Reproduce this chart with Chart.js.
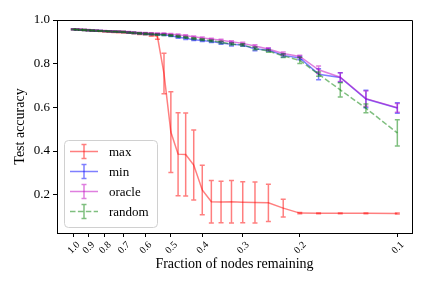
<!DOCTYPE html>
<html>
<head>
<meta charset="utf-8">
<script src="https://cdn.jsdelivr.net/npm/chart.js@4.4.0/dist/chart.umd.min.js"></script>
<style>
    html, body { margin: 0; padding: 0; background: #fff; }
</style>
</head>
<body>
<canvas id="chart" width="432" height="288"></canvas>
<script>
// Fraction of nodes remaining (x) and test accuracy per removal strategy.
const fractions = [1.0, 0.975, 0.95, 0.925, 0.9, 0.875, 0.85, 0.825, 0.8, 0.775, 0.75, 0.725, 0.7, 0.675, 0.65, 0.625, 0.6, 0.575, 0.55,
    0.525, 0.5, 0.475, 0.45, 0.425, 0.4, 0.375, 0.35, 0.325, 0.3, 0.275, 0.25, 0.225, 0.2, 0.175, 0.15, 0.125, 0.1];

const maxAcc = [0.957, 0.956, 0.955, 0.954, 0.953, 0.951, 0.950, 0.949, 0.948, 0.947, 0.946, 0.945, 0.944, 0.942, 0.940, 0.938, 0.936, 0.932, 0.924,
    0.755, 0.487, 0.386, 0.384, 0.336, 0.222, 0.168, 0.167, 0.168, 0.166, 0.165, 0.163, 0.139, 0.116, 0.115, 0.115, 0.115, 0.114];
const maxErr = [0.002, 0.002, 0.002, 0.002, 0.002, 0.002, 0.002, 0.002, 0.003, 0.003, 0.003, 0.003, 0.003, 0.003, 0.003, 0.004, 0.004, 0.006, 0.012,
    0.093, 0.185, 0.190, 0.190, 0.160, 0.113, 0.097, 0.095, 0.097, 0.094, 0.094, 0.085, 0.041, 0.003, 0.002, 0.002, 0.002, 0.002];

const minAcc = [0.957, 0.956, 0.955, 0.954, 0.953, 0.952, 0.951, 0.950, 0.949, 0.948, 0.947, 0.946, 0.945, 0.943, 0.941, 0.939, 0.937, 0.935, 0.934,
    0.933, 0.928, 0.921, 0.916, 0.910, 0.906, 0.902, 0.895, 0.889, 0.885, 0.867, 0.863, 0.838, 0.826, 0.752, 0.737, 0.638, 0.597];
const minErr = [0.002, 0.002, 0.002, 0.002, 0.002, 0.002, 0.002, 0.002, 0.002, 0.002, 0.002, 0.002, 0.002, 0.003, 0.003, 0.003, 0.003, 0.003, 0.003,
    0.004, 0.004, 0.005, 0.005, 0.004, 0.004, 0.005, 0.006, 0.008, 0.005, 0.008, 0.006, 0.007, 0.008, 0.025, 0.021, 0.040, 0.024];

const oracleAcc = [0.958, 0.957, 0.956, 0.955, 0.954, 0.953, 0.952, 0.951, 0.950, 0.949, 0.948, 0.947, 0.946, 0.945, 0.943, 0.941, 0.940, 0.939, 0.938,
    0.938, 0.935, 0.932, 0.928, 0.923, 0.918, 0.913, 0.907, 0.900, 0.893, 0.881, 0.867, 0.847, 0.833, 0.772, 0.738, 0.640, 0.598];
const oracleErr = [0.002, 0.002, 0.002, 0.002, 0.002, 0.002, 0.002, 0.002, 0.002, 0.002, 0.002, 0.002, 0.002, 0.002, 0.002, 0.003, 0.003, 0.003, 0.003,
    0.003, 0.003, 0.004, 0.004, 0.004, 0.004, 0.004, 0.005, 0.005, 0.005, 0.006, 0.006, 0.007, 0.006, 0.017, 0.020, 0.035, 0.020];

const randomAcc = [0.957, 0.956, 0.955, 0.954, 0.953, 0.952, 0.951, 0.950, 0.949, 0.948, 0.947, 0.946, 0.945, 0.943, 0.941, 0.939, 0.937, 0.935, 0.933,
    0.932, 0.929, 0.925, 0.920, 0.915, 0.910, 0.905, 0.898, 0.890, 0.886, 0.870, 0.858, 0.836, 0.815, 0.752, 0.680, 0.596, 0.483];
const randomErr = [0.002, 0.002, 0.002, 0.002, 0.002, 0.002, 0.002, 0.002, 0.002, 0.002, 0.002, 0.002, 0.002, 0.002, 0.003, 0.003, 0.003, 0.003, 0.003,
    0.003, 0.003, 0.004, 0.004, 0.004, 0.004, 0.004, 0.005, 0.005, 0.005, 0.006, 0.006, 0.008, 0.014, 0.010, 0.033, 0.020, 0.060];

const xTicks = [1.0, 0.9, 0.8, 0.7, 0.6, 0.5, 0.4, 0.3, 0.2, 0.1];
const yTicks = [0.2, 0.4, 0.6, 0.8, 1.0];

const SERIF = "'Liberation Serif', 'DejaVu Serif', serif";

function points(values) {
    return fractions.map((f, i) => ({ x: f, y: values[i] }));
}

function series(label, values, errors, color, order, dash) {
    return {
        label: label,
        data: points(values),
        errors: errors,
        borderColor: color,
        backgroundColor: color,
        borderWidth: 1.5,
        borderDash: dash || [],
        pointRadius: 0,
        tension: 0,
        order: order
    };
}

// Vertical error bars with caps, drawn right after each dataset's line.
const errorBars = {
    id: 'errorBars',
    afterDatasetDraw(chart, args) {
        const ds = chart.data.datasets[args.index];
        if (!ds.errors) return;
        const ctx = chart.ctx;
        const xs = chart.scales.x, ys = chart.scales.y;
        ctx.save();
        ctx.strokeStyle = ds.borderColor;
        ctx.lineWidth = 1.5;
        ds.data.forEach((p, i) => {
            const e = ds.errors[i];
            const px = xs.getPixelForValue(p.x);
            const lo = ys.getPixelForValue(p.y - e);
            const hi = ys.getPixelForValue(p.y + e);
            ctx.beginPath();
            ctx.moveTo(px, lo); ctx.lineTo(px, hi);
            ctx.moveTo(px - 2.5, lo); ctx.lineTo(px + 2.5, lo);
            ctx.moveTo(px - 2.5, hi); ctx.lineTo(px + 2.5, hi);
            ctx.stroke();
        });
        ctx.restore();
    }
};

// Top/right spines plus a matplotlib-style legend in the lower left.
const frameAndLegend = {
    id: 'frameAndLegend',
    afterDraw(chart) {
        const ctx = chart.ctx;
        const a = chart.chartArea;
        ctx.save();
        ctx.strokeStyle = '#000';
        ctx.lineWidth = 1;
        ctx.beginPath();
        ctx.moveTo(a.left, a.top + 0.5); ctx.lineTo(a.right + 0.5, a.top + 0.5);
        ctx.lineTo(a.right + 0.5, a.bottom);
        ctx.stroke();

        const bx = 64, by = 140, bw = 93, bh = 87;
        ctx.fillStyle = 'rgba(255,255,255,0.8)';
        ctx.strokeStyle = '#d0d0d0';
        ctx.beginPath();
        ctx.roundRect(bx + 0.5, by + 0.5, bw, bh, 4);
        ctx.fill();
        ctx.stroke();

        ctx.font = '13px ' + SERIF;
        ctx.textBaseline = 'middle';
        ctx.textAlign = 'left';
        const order = [0, 1, 2, 3];
        order.forEach((idx, row) => {
            const ds = chart.data.datasets[idx];
            const y = 151.5 + row * 20;
            ctx.strokeStyle = ds.borderColor;
            ctx.lineWidth = 1.5;
            ctx.setLineDash(ds.borderDash);
            ctx.beginPath();
            ctx.moveTo(70, y); ctx.lineTo(98, y);
            ctx.stroke();
            ctx.setLineDash([]);
            ctx.beginPath();
            ctx.moveTo(84, y - 7); ctx.lineTo(84, y + 7);
            ctx.moveTo(81.5, y - 7); ctx.lineTo(86.5, y - 7);
            ctx.moveTo(81.5, y + 7); ctx.lineTo(86.5, y + 7);
            ctx.stroke();
            ctx.fillStyle = '#000';
            ctx.fillText(ds.label, 109, y + 1);
        });
        ctx.restore();
    }
};

new Chart(document.getElementById('chart').getContext('2d'), {
    type: 'line',
    data: {
        datasets: [
            series('max', maxAcc, maxErr, 'rgba(255,0,0,0.5)', 4),
            series('min', minAcc, minErr, 'rgba(0,0,255,0.5)', 3),
            series('oracle', oracleAcc, oracleErr, 'rgba(191,0,191,0.5)', 2),
            series('random', randomAcc, randomErr, 'rgba(0,128,0,0.5)', 1, [5.5, 2.4])
        ]
    },
    options: {
        responsive: false,
        animation: false,
        layout: { padding: { top: 20, right: 20, left: 0, bottom: 0 } },
        plugins: { legend: { display: false }, tooltip: { enabled: false } },
        scales: {
            x: {
                type: 'logarithmic',
                reverse: true,
                min: 0.0901,
                max: 1.123,
                afterBuildTicks: s => { s.ticks = xTicks.map(v => ({ value: v })); },
                afterFit: s => { s.height = 55; },
                grid: { display: true, drawOnChartArea: false, drawTicks: true, tickLength: 4, tickColor: '#000' },
                border: { display: true, color: '#000', width: 1 },
                ticks: {
                    autoSkip: false,
                    minRotation: 45,
                    maxRotation: 45,
                    padding: 2,
                    labelOffset: 5,
                    color: '#000',
                    font: { family: SERIF, size: 10 },
                    callback: v => Number(v).toFixed(1)
                },
                title: {
                    display: true,
                    text: 'Fraction of nodes remaining',
                    color: '#000',
                    font: { family: SERIF, size: 14 },
                    padding: { top: 0, bottom: 15 }
                }
            },
            y: {
                type: 'linear',
                min: 0.025,
                max: 1.0,
                afterBuildTicks: s => { s.ticks = yTicks.map(v => ({ value: v })); },
                afterFit: s => { s.width = 57; },
                grid: { display: true, drawOnChartArea: false, drawTicks: true, tickLength: 4, tickColor: '#000' },
                border: { display: true, color: '#000', width: 1 },
                ticks: {
                    padding: 3,
                    color: '#000',
                    font: { family: SERIF, size: 13 },
                    callback: v => Number(v).toFixed(1)
                },
                title: {
                    display: true,
                    text: 'Test accuracy',
                    color: '#000',
                    font: { family: SERIF, size: 14 },
                    padding: { top: 12, bottom: 0 }
                }
            }
        }
    },
    plugins: [errorBars, frameAndLegend]
});
</script>
</body>
</html>
